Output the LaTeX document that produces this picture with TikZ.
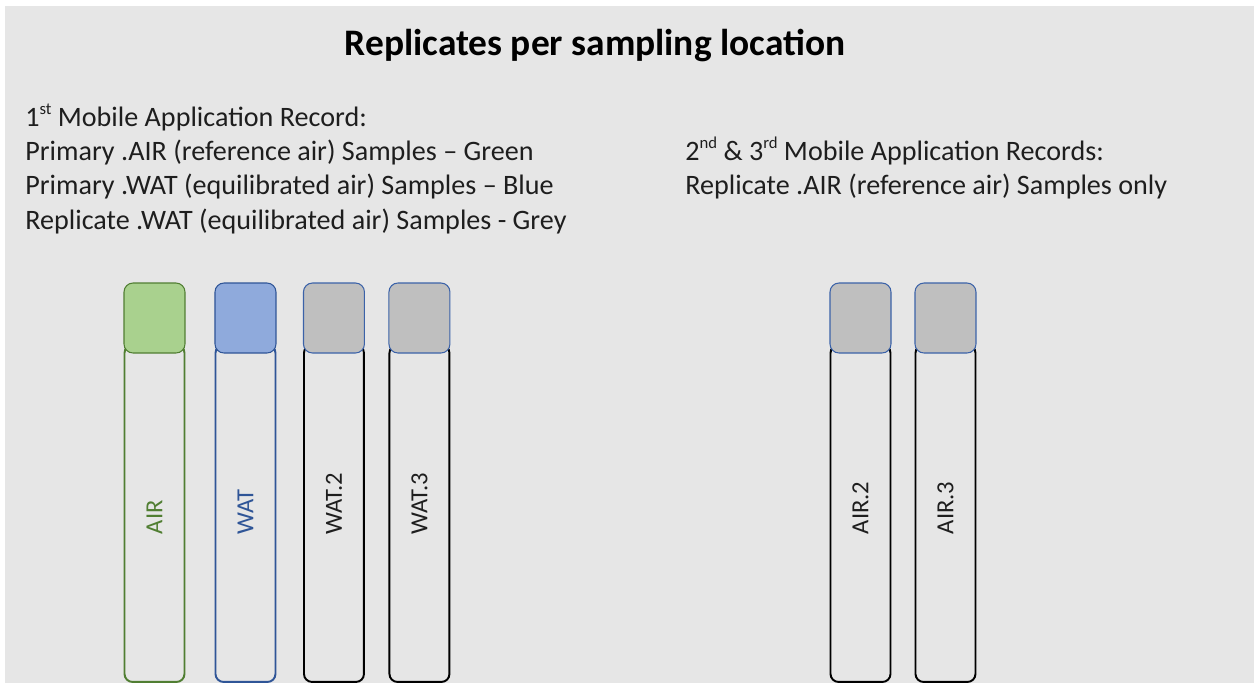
\documentclass[tikz,border=0pt]{standalone}
\usepackage{fontspec}
\setmainfont{Carlito}
\usetikzlibrary{positioning}

\definecolor{bggray}{HTML}{E6E6E6}
\definecolor{inkgray}{HTML}{1E1E1E}
\definecolor{airline}{HTML}{507E32}
\definecolor{airfill}{HTML}{A9D18E}
\definecolor{watline}{HTML}{2F5597}
\definecolor{watfill}{HTML}{8FAADC}
\definecolor{capgrey}{HTML}{BFBFBF}
\definecolor{capedge}{HTML}{3B62A8}

\newcommand{\ordsup}[1]{\raisebox{0.42em}{\fontsize{9.5}{10}\selectfont #1}}

\begin{document}
\begin{tikzpicture}[x=0.02cm,y=-0.02cm,
	titletext/.style={font=\fontsize{21.3}{25}\selectfont\bfseries, text=black, inner sep=0pt},
	rectext/.style={font=\fontsize{16}{19}\selectfont, text=inkgray, inner sep=0pt},
	tubebox/.style={draw=black, line width=1.1pt, rounded corners=0.16cm,
		minimum width=1.2cm, minimum height=6.74cm, inner sep=0pt, outer sep=0pt},
	capbox/.style={draw=capedge, fill=capgrey, line width=0.6pt, rounded corners=0.18cm,
		minimum width=1.22cm, minimum height=1.4cm, inner sep=0pt, outer sep=0pt},
	tubelabel/.style={font=\fontsize{14}{16}\selectfont, text=inkgray, rotate=90, anchor=west, inner sep=0pt}]
\useasboundingbox (0,0) rectangle (1254,683);
\fill[white] (0,0) rectangle (1254,683);
\fill[bggray] (5,6) rectangle (1254,683);

\node[titletext, anchor=base] (title) at (595,55) {Replicates per sampling location};

% 1st record
\node[rectext, anchor=base west] (rec1) at (25,126) {1\ordsup{st} Mobile Application Record:};
\node[rectext, below=0.69cm of rec1.base west, anchor=base west] (rec1air) {Primary .AIR (reference air) Samples -- Green};
\node[rectext, below=0.69cm of rec1air.base west, anchor=base west] (rec1wat) {Primary .WAT (equilibrated air) Samples -- Blue};
\node[rectext, below=0.69cm of rec1wat.base west, anchor=base west] (rec1rep) {Replicate .WAT (equilibrated air) Samples - Grey};

% 2nd and 3rd records
\node[rectext, anchor=base west] (rec23) at (685,160) {2\ordsup{nd} \& 3\ordsup{rd} Mobile Application Records:};
\node[rectext, below=0.69cm of rec23.base west, anchor=base west] (rec23air) {Replicate .AIR (reference air) Samples only};

% tubes of the 1st record
\node[tubebox, draw=airline, anchor=north] (AIRbody) at (154.5,345) {};
\node[capbox, draw=airline, fill=airfill, above=-0.16cm of AIRbody.north] (AIRcap) {};
\node[tubelabel, text=airline] (AIRlabel) at ([yshift=-0.42cm]AIRbody.center) {AIR};

\node[tubebox, draw=watline, right=0.62cm of AIRbody] (WATbody) {};
\node[capbox, draw=watline, fill=watfill, above=-0.16cm of WATbody.north] (WATcap) {};
\node[tubelabel, text=watline] (WATlabel) at ([yshift=-0.42cm]WATbody.center) {WAT};

\node[tubebox, right=0.57cm of WATbody] (WATtwobody) {};
\node[capbox, above=-0.16cm of WATtwobody.north] (WATtwocap) {};
\node[tubelabel] (WATtwolabel) at ([yshift=-0.42cm]WATtwobody.center) {WAT.2};

\node[tubebox, right=0.51cm of WATtwobody] (WATthreebody) {};
\node[capbox, above=-0.16cm of WATthreebody.north] (WATthreecap) {};
\node[tubelabel] (WATthreelabel) at ([yshift=-0.42cm]WATthreebody.center) {WAT.3};

% tubes of the 2nd and 3rd records
\node[tubebox, anchor=north] (AIRtwobody) at (860.5,345) {};
\node[capbox, above=-0.16cm of AIRtwobody.north] (AIRtwocap) {};
\node[tubelabel] (AIRtwolabel) at ([yshift=-0.42cm]AIRtwobody.center) {AIR.2};

\node[tubebox, right=0.5cm of AIRtwobody] (AIRthreebody) {};
\node[capbox, above=-0.16cm of AIRthreebody.north] (AIRthreecap) {};
\node[tubelabel] (AIRthreelabel) at ([yshift=-0.42cm]AIRthreebody.center) {AIR.3};

\end{tikzpicture}
\end{document}
